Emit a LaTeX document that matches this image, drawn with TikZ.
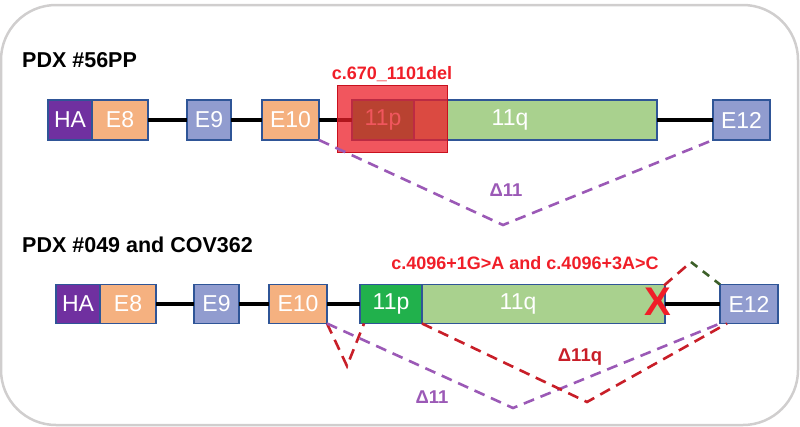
\documentclass[tikz,border=0pt]{standalone}
\usepackage{fontspec}
\setmainfont{Liberation Sans}
\usetikzlibrary{calc}
\definecolor{haP}{RGB}{112,48,160}
\definecolor{exO}{RGB}{245,177,128}
\definecolor{exB}{RGB}{145,156,207}
\definecolor{bdr}{RGB}{47,85,151}
\definecolor{lgreen}{RGB}{169,209,142}
\definecolor{dgreen}{RGB}{33,177,76}
\definecolor{delred}{RGB}{236,30,40}
\definecolor{delbdr}{RGB}{200,16,30}
\definecolor{dred}{RGB}{200,30,40}
\definecolor{purp}{RGB}{155,89,182}
\definecolor{mutred}{RGB}{240,30,40}
\definecolor{olivegr}{RGB}{60,95,40}
\definecolor{framegray}{RGB}{208,206,206}
\begin{document}
\begin{tikzpicture}[x=1pt,y=-1pt,
 exon/.style={draw=bdr, line width=1.3pt, inner sep=0pt, outer sep=0pt, minimum height=40pt, text=white, font=\fontsize{23}{23}\selectfont},
 intron/.style={line width=4pt, black},
 splice/.style={dash pattern=on 11pt off 7pt, line width=2.6pt},
 rowtitle/.style={font=\fontsize{21.5}{21.5}\selectfont\bfseries, anchor=west, inner sep=0pt},
 mut/.style={font=\fontsize{18}{18}\selectfont\bfseries, text=mutred, inner sep=0pt},
 dlab/.style={font=\fontsize{18.5}{18.5}\selectfont\bfseries, inner sep=0pt},
 boxtext/.style={text=white, font=\fontsize{23}{23}\selectfont, inner sep=0pt}]
\useasboundingbox (0,0) rectangle (800,426);
\draw[framegray, line width=2.5pt, rounded corners=55pt] (1,5) rectangle (798,425);

% ---------- Row 1 ----------
\node[rowtitle] (t1) at (22,60) {PDX \#56PP};
\node[exon, fill=haP, minimum width=44pt] (ha1) at (70,120) {HA};
\node[exon, fill=exO, minimum width=56pt] (e8a) at (120,120) {E8};
\node[exon, fill=exB, minimum width=44pt] (e9a) at (209,120) {E9};
\node[exon, fill=exO, minimum width=57pt] (e10a) at (290.5,120) {E10};
\node[exon, fill=dgreen, minimum width=62pt] (p1) at (383,120) {11p};
\node[exon, fill=lgreen, minimum width=243pt] (q1) at (535.5,120) {};
\node[boxtext] (q1t) at (510,120) {11q};
\node[exon, fill=exB, minimum width=57pt] (e12a) at (741.5,120) {E12};
\draw[intron] (e8a.east) -- (e9a.west);
\draw[intron] (e9a.east) -- (e10a.west);
\draw[intron] (e10a.east) -- (p1.west);
\draw[intron] (q1.east) -- (e12a.west);
\node[draw=delbdr, line width=1.5pt, fill=delred, fill opacity=0.75, minimum width=110pt, minimum height=67pt, inner sep=0pt] (del) at (392.5,119) {};
\node[mut] (m1) at (392,74) {c.670\_1101del};
\coordinate (v1) at (503,225);
\draw[splice, purp] (e10a.south east) -- (v1) -- (e12a.south west);
\node[dlab, text=purp] (d1) at (506,190) {Δ11};

% ---------- Row 2 ----------
\node[rowtitle] (t2) at (22,245) {PDX \#049 and COV362};
\node[exon, fill=haP, minimum width=44pt, minimum height=39pt] (ha2) at (78,304) {HA};
\node[exon, fill=exO, minimum width=56pt, minimum height=39pt] (e8b) at (128,304) {E8};
\node[exon, fill=exB, minimum width=45pt, minimum height=39pt] (e9b) at (216.5,304) {E9};
\node[exon, fill=exO, minimum width=58pt, minimum height=39pt] (e10b) at (298,304) {E10};
\node[exon, fill=dgreen, minimum width=62pt, minimum height=39pt] (p2) at (391,304) {11p};
\node[exon, fill=lgreen, minimum width=243pt, minimum height=39pt] (q2) at (543.5,304) {};
\node[boxtext] (q2t) at (518,304) {11q};
\node[exon, fill=exB, minimum width=58pt, minimum height=39pt] (e12b) at (749,304) {E12};
\draw[intron] (e8b.east) -- (e9b.west);
\draw[intron] (e9b.east) -- (e10b.west);
\draw[intron] (e10b.east) -- (p2.west);
\draw[intron] (q2.east) -- (e12b.west);
\node[font=\fontsize{40}{40}\selectfont\bfseries, text=mutred, inner sep=0pt] (x2) at (658,302) {X};
\node[mut] (m2) at (525,263) {c.4096+1G>A and c.4096+3A>C};
\coordinate (tp) at (691,262);
\draw[splice, dred] ($(q2.north east)+(-1,1)$) -- (tp);
\draw[splice, olivegr, dash pattern=on 8pt off 7pt] (tp) -- (e12b.north west);
\coordinate (v2) at (347,366);
\draw[splice, dred] (e10b.south east) -- (v2) -- ($(p2.south west)+(4,0)$);
\coordinate (v3) at (513,408);
\draw[splice, purp] (e10b.south east) -- (v3) -- (e12b.south west);
\coordinate (v4) at (587,402);
\draw[splice, dred] (p2.south east) -- (v4) -- ($(e12b.south west)+(7,0)$);
\node[dlab, text=dred] (d2) at (580,357) {Δ11q};
\node[dlab, text=purp] (d3) at (432,397) {Δ11};
\end{tikzpicture}
\end{document}
